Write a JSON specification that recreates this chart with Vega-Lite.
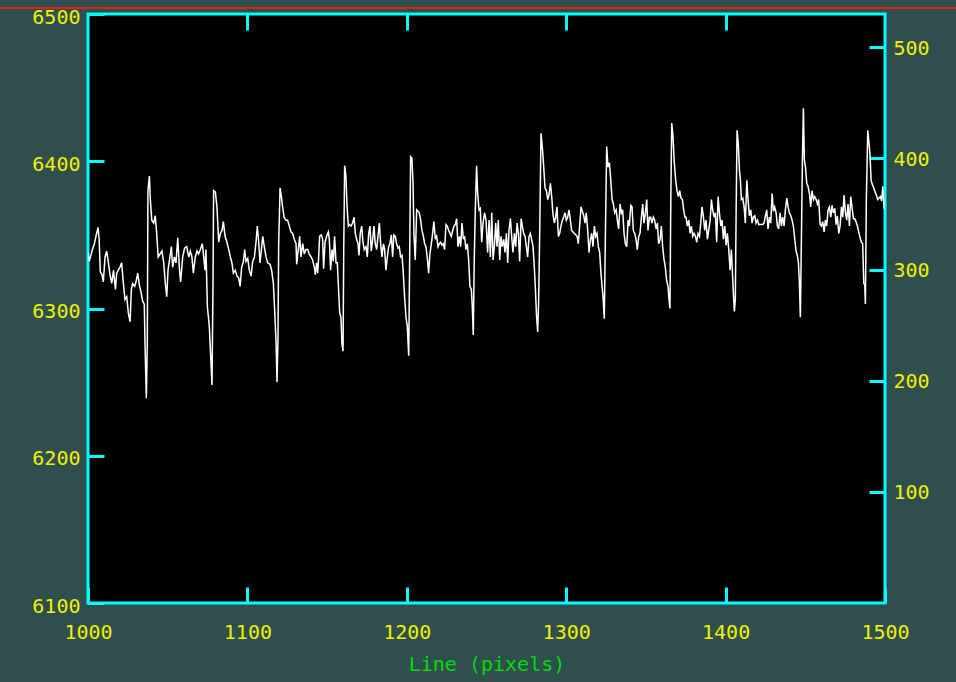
{
"$schema": "https://vega.github.io/schema/vega-lite/v6.json",
"width": 797, "height": 589,
"autosize": {"type": "none"},
"padding": {"left": 88, "top": 14, "right": 71, "bottom": 79},
"background": "#2f4f4f",
"config": {
 "view": {"fill": "black", "stroke": "#00ffff", "strokeWidth": 3},
 "axis": {"domain": false, "grid": false, "tickColor": "#00ffff", "tickWidth": 3, "tickSize": -16,
  "labelColor": "#f0f000", "labelFont": "DejaVu Sans Mono", "labelFontSize": 20, "labelFlush": false, "labelOverlap": false,
  "titleColor": "#00dd00", "titleFont": "DejaVu Sans Mono", "titleFontSize": 20, "titleFontWeight": "normal"}
},
"data": {"values": [
{"x":1000,"y":6338},{"x":1000.8,"y":6332},{"x":1002.5,"y":6339},{"x":1004,"y":6344},{"x":1005,"y":6349},{"x":1006.3,"y":6355},{"x":1007,"y":6347},{"x":1007.7,"y":6325},{"x":1008.8,"y":6323},{"x":1009.6,"y":6318},{"x":1010.7,"y":6335},{"x":1011.7,"y":6339},{"x":1012.8,"y":6331},{"x":1013.8,"y":6323},{"x":1014.9,"y":6317},{"x":1016,"y":6326},{"x":1017.2,"y":6313},{"x":1018,"y":6324},{"x":1019,"y":6326},{"x":1020,"y":6328},{"x":1021.1,"y":6331},{"x":1022.2,"y":6317},{"x":1023.2,"y":6306},{"x":1024.3,"y":6308},{"x":1025.3,"y":6297},{"x":1026.4,"y":6291},{"x":1027.2,"y":6313},{"x":1028,"y":6317},{"x":1029.3,"y":6315},{"x":1030.1,"y":6318},{"x":1031.2,"y":6324},{"x":1032.2,"y":6316},{"x":1033.3,"y":6311},{"x":1034.3,"y":6305},{"x":1035.3,"y":6303},{"x":1035.8,"y":6274},{"x":1036.6,"y":6239},{"x":1037.2,"y":6276},{"x":1037.6,"y":6380},{"x":1038.5,"y":6390},{"x":1039.1,"y":6374},{"x":1040,"y":6360},{"x":1041.2,"y":6358},{"x":1042.2,"y":6363},{"x":1043.1,"y":6351},{"x":1044,"y":6335},{"x":1045.2,"y":6337},{"x":1046.4,"y":6339},{"x":1047.5,"y":6331},{"x":1048.5,"y":6317},{"x":1049.4,"y":6308},{"x":1050.2,"y":6326},{"x":1051.4,"y":6335},{"x":1052.3,"y":6342},{"x":1053.1,"y":6328},{"x":1054.2,"y":6335},{"x":1055.2,"y":6331},{"x":1056.3,"y":6348},{"x":1057.3,"y":6328},{"x":1058.1,"y":6318},{"x":1059.4,"y":6335},{"x":1060.6,"y":6341},{"x":1061.9,"y":6342},{"x":1063.2,"y":6335},{"x":1064.2,"y":6339},{"x":1065.2,"y":6335},{"x":1066.1,"y":6324},{"x":1067.3,"y":6335},{"x":1068.4,"y":6339},{"x":1069.4,"y":6337},{"x":1070.5,"y":6340},{"x":1071.7,"y":6344},{"x":1072.6,"y":6335},{"x":1073.4,"y":6326},{"x":1074,"y":6340},{"x":1074.9,"y":6301},{"x":1076.1,"y":6288},{"x":1077,"y":6267},{"x":1077.8,"y":6248},{"x":1078.4,"y":6315},{"x":1078.8,"y":6380},{"x":1079.9,"y":6379},{"x":1080.9,"y":6369},{"x":1082,"y":6345},{"x":1083,"y":6351},{"x":1084.1,"y":6353},{"x":1084.9,"y":6359},{"x":1086,"y":6349},{"x":1087.2,"y":6345},{"x":1088.3,"y":6340},{"x":1089.3,"y":6335},{"x":1090.3,"y":6331},{"x":1091.2,"y":6324},{"x":1092.4,"y":6326},{"x":1093.5,"y":6322},{"x":1094.5,"y":6321},{"x":1095.4,"y":6315},{"x":1096.4,"y":6328},{"x":1097.5,"y":6332},{"x":1098.3,"y":6340},{"x":1099.1,"y":6332},{"x":1100.2,"y":6334},{"x":1101.2,"y":6326},{"x":1102.3,"y":6322},{"x":1103.3,"y":6332},{"x":1104.4,"y":6335},{"x":1105.4,"y":6345},{"x":1106.2,"y":6356},{"x":1107.1,"y":6345},{"x":1107.9,"y":6331},{"x":1108.8,"y":6340},{"x":1109.6,"y":6349},{"x":1110.6,"y":6342},{"x":1111.7,"y":6335},{"x":1112.7,"y":6331},{"x":1114.2,"y":6330},{"x":1115.2,"y":6326},{"x":1116.3,"y":6317},{"x":1117.1,"y":6299},{"x":1118,"y":6276},{"x":1118.6,"y":6250},{"x":1119.2,"y":6281},{"x":1119.6,"y":6343},{"x":1120.5,"y":6382},{"x":1121.3,"y":6376},{"x":1122.1,"y":6369},{"x":1123,"y":6362},
{"x":1124.2,"y":6360},{"x":1125.2,"y":6360},{"x":1126.3,"y":6356},{"x":1127.3,"y":6352},{"x":1128.4,"y":6351},{"x":1129.4,"y":6347},{"x":1130.5,"y":6344},{"x":1130.9,"y":6330},{"x":1131.9,"y":6340},{"x":1132.8,"y":6349},{"x":1133.6,"y":6335},{"x":1134.7,"y":6344},{"x":1135.7,"y":6337},{"x":1136.7,"y":6340},{"x":1137.8,"y":6340},{"x":1138.8,"y":6337},{"x":1139.9,"y":6335},{"x":1140.9,"y":6333},{"x":1142,"y":6328},{"x":1142.6,"y":6323},{"x":1143.4,"y":6331},{"x":1144.1,"y":6324},{"x":1144.7,"y":6335},{"x":1145.3,"y":6349},{"x":1146.4,"y":6350},{"x":1147.2,"y":6347},{"x":1147.8,"y":6327},{"x":1148.7,"y":6345},{"x":1149.7,"y":6349},{"x":1150.8,"y":6352},{"x":1151.4,"y":6347},{"x":1152.2,"y":6326},{"x":1153.1,"y":6340},{"x":1153.9,"y":6332},{"x":1154.7,"y":6349},{"x":1155.6,"y":6331},{"x":1156.4,"y":6331},{"x":1157,"y":6317},{"x":1157.9,"y":6297},{"x":1158.7,"y":6294},{"x":1159.3,"y":6276},{"x":1160,"y":6271},{"x":1160.4,"y":6335},{"x":1161,"y":6397},{"x":1161.8,"y":6390},{"x":1162.5,"y":6370},{"x":1163.3,"y":6356},{"x":1164.1,"y":6357},{"x":1165,"y":6356},{"x":1166,"y":6358},{"x":1166.9,"y":6362},{"x":1167.7,"y":6351},{"x":1168.5,"y":6347},{"x":1169.4,"y":6344},{"x":1170,"y":6336},{"x":1170.8,"y":6351},{"x":1171.7,"y":6356},{"x":1172.5,"y":6345},{"x":1173.3,"y":6340},{"x":1174.4,"y":6342},{"x":1175.2,"y":6335},{"x":1176.1,"y":6351},{"x":1176.9,"y":6356},{"x":1177.7,"y":6339},{"x":1178.6,"y":6347},{"x":1179.4,"y":6356},{"x":1180.2,"y":6344},{"x":1181.1,"y":6340},{"x":1181.9,"y":6349},{"x":1182.8,"y":6358},{"x":1183.6,"y":6344},{"x":1184.4,"y":6335},{"x":1185.3,"y":6344},{"x":1186.1,"y":6340},{"x":1186.9,"y":6326},{"x":1187.8,"y":6335},{"x":1188.6,"y":6342},{"x":1189.4,"y":6344},{"x":1190.3,"y":6350},{"x":1191.1,"y":6335},{"x":1191.9,"y":6350},{"x":1192.8,"y":6349},{"x":1193.6,"y":6344},{"x":1194.5,"y":6341},{"x":1195.3,"y":6342},{"x":1196.1,"y":6335},{"x":1197,"y":6336},{"x":1197.8,"y":6324},{"x":1198.6,"y":6308},{"x":1199.5,"y":6294},{"x":1200.3,"y":6288},{"x":1201.2,"y":6268},{"x":1201.8,"y":6335},{"x":1202.4,"y":6403},{"x":1203.2,"y":6402},{"x":1203.9,"y":6385},{"x":1204.5,"y":6350},{"x":1205.3,"y":6333},{"x":1206.2,"y":6367},{"x":1207,"y":6366},{"x":1207.8,"y":6365},{"x":1208.7,"y":6360},{"x":1209.5,"y":6353},{"x":1210.4,"y":6349},{"x":1211.2,"y":6344},{"x":1212,"y":6342},{"x":1212.9,"y":6334},{"x":1213.7,"y":6324},{"x":1214.5,"y":6337},{"x":1215.4,"y":6344},{"x":1216.2,"y":6351},{"x":1217,"y":6359},{"x":1217.9,"y":6347},{"x":1218.7,"y":6349},{"x":1219.6,"y":6342},{"x":1220.4,"y":6344},{"x":1221.2,"y":6345},{"x":1222.1,"y":6343},{"x":1222.9,"y":6344},{"x":1223.7,"y":6340},{"x":1224.6,"y":6357},{"x":1225.4,"y":6356},{"x":1226.3,"y":6353},{"x":1227.1,"y":6351},{"x":1227.9,"y":6349},{"x":1228.8,"y":6353},{"x":1229.6,"y":6356},{"x":1230.4,"y":6357},{"x":1231.3,"y":6361},{"x":1232.1,"y":6342},{"x":1233,"y":6349},{"x":1233.8,"y":6342},{"x":1234.6,"y":6358},{"x":1235.5,"y":6347},{"x":1236.3,"y":6349},{"x":1237.1,"y":6340},{"x":1238,"y":6344},{"x":1238.8,"y":6333},{"x":1239.6,"y":6315},{"x":1240.5,"y":6313},{"x":1241.1,"y":6301},{"x":1241.7,"y":6282},{"x":1242.3,"y":6333},{"x":1243,"y":6368},{"x":1243.8,"y":6397},{"x":1244.4,"y":6379},{"x":1245.3,"y":6367},{"x":1246.1,"y":6368},{"x":1247,"y":6345},{"x":1247.8,"y":6358},{"x":1248.8,"y":6365},{"x":1249.7,"y":6360},
{"x":1250.7,"y":6338},{"x":1251.6,"y":6360},{"x":1252.4,"y":6335},{"x":1253.3,"y":6365},{"x":1254.1,"y":6333},{"x":1254.9,"y":6342},{"x":1255.8,"y":6358},{"x":1256.6,"y":6342},{"x":1257.4,"y":6360},{"x":1258.3,"y":6333},{"x":1259.1,"y":6349},{"x":1259.9,"y":6342},{"x":1260.8,"y":6347},{"x":1261.6,"y":6338},{"x":1262.5,"y":6351},{"x":1263.3,"y":6331},{"x":1264.1,"y":6353},{"x":1265,"y":6361},{"x":1265.8,"y":6349},{"x":1266.6,"y":6338},{"x":1267.5,"y":6351},{"x":1268.3,"y":6342},{"x":1269.2,"y":6358},{"x":1270,"y":6351},{"x":1270.8,"y":6332},{"x":1271.7,"y":6361},{"x":1272.5,"y":6356},{"x":1273.3,"y":6351},{"x":1274.2,"y":6349},{"x":1275,"y":6342},{"x":1275.8,"y":6335},{"x":1276.7,"y":6349},{"x":1277.5,"y":6351},{"x":1278.3,"y":6347},{"x":1279.2,"y":6342},{"x":1280,"y":6328},{"x":1280.7,"y":6313},{"x":1281.3,"y":6297},{"x":1282.1,"y":6284},{"x":1282.7,"y":6304},{"x":1283.4,"y":6354},{"x":1284.2,"y":6419},{"x":1285,"y":6410},{"x":1285.9,"y":6396},{"x":1286.7,"y":6382},{"x":1287.6,"y":6380},{"x":1288.4,"y":6374},{"x":1289.2,"y":6377},{"x":1290.1,"y":6385},{"x":1290.9,"y":6376},{"x":1291.7,"y":6364},{"x":1292.6,"y":6358},{"x":1293.4,"y":6362},{"x":1294.2,"y":6369},{"x":1295.1,"y":6349},{"x":1295.9,"y":6351},{"x":1296.7,"y":6356},{"x":1297.6,"y":6360},{"x":1298.4,"y":6362},{"x":1299.3,"y":6365},{"x":1300.1,"y":6360},{"x":1300.9,"y":6362},{"x":1301.8,"y":6367},{"x":1302.6,"y":6360},{"x":1303.4,"y":6353},{"x":1304.3,"y":6352},{"x":1305.1,"y":6351},{"x":1306,"y":6350},{"x":1306.8,"y":6349},{"x":1307.6,"y":6344},{"x":1308.5,"y":6357},{"x":1309.3,"y":6369},{"x":1310.1,"y":6366},{"x":1311,"y":6363},{"x":1311.8,"y":6358},{"x":1312.6,"y":6365},{"x":1313.5,"y":6353},{"x":1314.3,"y":6338},{"x":1315.2,"y":6347},{"x":1316,"y":6351},{"x":1316.8,"y":6342},{"x":1317.7,"y":6356},{"x":1318.5,"y":6349},{"x":1319.3,"y":6351},{"x":1320.2,"y":6342},{"x":1321,"y":6338},{"x":1321.8,"y":6324},{"x":1322.5,"y":6315},{"x":1323.1,"y":6308},{"x":1323.9,"y":6293},{"x":1324.6,"y":6351},{"x":1325.4,"y":6410},{"x":1326.2,"y":6396},{"x":1327.1,"y":6399},{"x":1327.9,"y":6388},{"x":1328.8,"y":6374},{"x":1329.6,"y":6371},{"x":1330.4,"y":6365},{"x":1331.3,"y":6367},{"x":1332.1,"y":6360},{"x":1332.9,"y":6354},{"x":1333.8,"y":6371},{"x":1334.6,"y":6365},{"x":1335.4,"y":6367},{"x":1336.3,"y":6351},{"x":1337.1,"y":6344},{"x":1338,"y":6342},{"x":1338.8,"y":6360},{"x":1339.6,"y":6356},{"x":1340.5,"y":6370},{"x":1341.3,"y":6369},{"x":1342.1,"y":6353},{"x":1343,"y":6351},{"x":1343.8,"y":6347},{"x":1344.6,"y":6340},{"x":1345.5,"y":6349},{"x":1346.3,"y":6351},{"x":1347.2,"y":6362},{"x":1348,"y":6371},{"x":1348.8,"y":6358},{"x":1349.7,"y":6365},{"x":1350.5,"y":6374},{"x":1351.3,"y":6353},{"x":1352.2,"y":6362},{"x":1353,"y":6362},{"x":1353.8,"y":6358},{"x":1354.7,"y":6362},{"x":1355.5,"y":6360},{"x":1356.4,"y":6354},{"x":1357.2,"y":6358},{"x":1358,"y":6344},{"x":1358.9,"y":6347},{"x":1359.7,"y":6356},{"x":1360.5,"y":6342},{"x":1361.4,"y":6333},{"x":1362.2,"y":6328},{"x":1363,"y":6319},{"x":1363.9,"y":6315},{"x":1364.5,"y":6306},{"x":1365.1,"y":6300},{"x":1365.6,"y":6371},{"x":1366.2,"y":6426},{"x":1367,"y":6417},{"x":1367.8,"y":6399},{"x":1368.7,"y":6387},{"x":1369.5,"y":6380},{"x":1370.4,"y":6376},{"x":1371.2,"y":6380},{"x":1372,"y":6375},{"x":1372.9,"y":6374},{"x":1373.7,"y":6367},{"x":1374.5,"y":6362},
{"x":1375.2,"y":6362},{"x":1376,"y":6356},{"x":1376.9,"y":6360},{"x":1377.7,"y":6351},{"x":1378.5,"y":6356},{"x":1379.4,"y":6349},{"x":1380.2,"y":6351},{"x":1381.1,"y":6349},{"x":1381.9,"y":6345},{"x":1382.7,"y":6351},{"x":1383.6,"y":6349},{"x":1384.4,"y":6358},{"x":1385.2,"y":6369},{"x":1386.1,"y":6362},{"x":1386.9,"y":6353},{"x":1387.7,"y":6360},{"x":1388.6,"y":6347},{"x":1389.4,"y":6353},{"x":1390.3,"y":6360},{"x":1391.1,"y":6374},{"x":1391.9,"y":6367},{"x":1392.8,"y":6362},{"x":1393.6,"y":6365},{"x":1394.4,"y":6345},{"x":1395.3,"y":6376},{"x":1396.1,"y":6365},{"x":1397,"y":6356},{"x":1397.8,"y":6360},{"x":1398.6,"y":6347},{"x":1399.5,"y":6356},{"x":1400.3,"y":6343},{"x":1401.1,"y":6351},{"x":1402,"y":6340},{"x":1402.8,"y":6326},{"x":1403.6,"y":6340},{"x":1404.3,"y":6324},{"x":1404.9,"y":6310},{"x":1405.5,"y":6298},{"x":1406.1,"y":6306},{"x":1406.6,"y":6365},{"x":1407.2,"y":6421},{"x":1408,"y":6411},{"x":1408.7,"y":6394},{"x":1409.3,"y":6387},{"x":1409.9,"y":6374},{"x":1410.8,"y":6375},{"x":1411.6,"y":6369},{"x":1412.4,"y":6358},{"x":1413.3,"y":6387},{"x":1414.1,"y":6374},{"x":1414.9,"y":6363},{"x":1415.8,"y":6367},{"x":1416.6,"y":6358},{"x":1417.4,"y":6362},{"x":1418.3,"y":6363},{"x":1419.1,"y":6358},{"x":1420,"y":6360},{"x":1420.8,"y":6357},{"x":1421.6,"y":6357},{"x":1422.5,"y":6357},{"x":1423.3,"y":6357},{"x":1424.1,"y":6358},{"x":1425,"y":6363},{"x":1425.8,"y":6367},{"x":1426.6,"y":6354},{"x":1427.5,"y":6362},{"x":1428.3,"y":6358},{"x":1429.2,"y":6378},{"x":1430,"y":6366},{"x":1430.8,"y":6369},{"x":1431.7,"y":6365},{"x":1432.5,"y":6356},{"x":1433.3,"y":6354},{"x":1434.2,"y":6365},{"x":1435,"y":6356},{"x":1435.8,"y":6362},{"x":1436.7,"y":6356},{"x":1437.5,"y":6367},{"x":1438.4,"y":6375},{"x":1439.2,"y":6369},{"x":1440,"y":6365},{"x":1440.9,"y":6363},{"x":1441.7,"y":6360},{"x":1442.5,"y":6356},{"x":1443.4,"y":6347},{"x":1444.2,"y":6339},{"x":1445,"y":6336},{"x":1445.7,"y":6331},{"x":1446.3,"y":6317},{"x":1446.9,"y":6294},{"x":1447.6,"y":6351},{"x":1448.2,"y":6401},{"x":1448.8,"y":6436},{"x":1449.4,"y":6401},{"x":1450.1,"y":6396},{"x":1450.9,"y":6385},{"x":1451.7,"y":6383},{"x":1452.6,"y":6378},{"x":1453.4,"y":6369},{"x":1454.2,"y":6380},{"x":1455.1,"y":6374},{"x":1455.9,"y":6376},{"x":1456.8,"y":6374},{"x":1457.6,"y":6371},{"x":1458.4,"y":6374},{"x":1459.3,"y":6357},{"x":1460.1,"y":6356},{"x":1460.9,"y":6359},{"x":1461.8,"y":6352},{"x":1462.6,"y":6360},{"x":1463.4,"y":6356},{"x":1464.3,"y":6367},{"x":1465.1,"y":6369},{"x":1466,"y":6362},{"x":1466.8,"y":6370},{"x":1467.6,"y":6365},{"x":1468.5,"y":6368},{"x":1469.3,"y":6357},{"x":1470.1,"y":6363},{"x":1471,"y":6351},{"x":1471.8,"y":6356},{"x":1472.7,"y":6369},{"x":1473.5,"y":6362},{"x":1474.3,"y":6377},{"x":1475.2,"y":6365},{"x":1476,"y":6360},{"x":1476.8,"y":6371},{"x":1477.7,"y":6356},{"x":1478.5,"y":6376},{"x":1479.3,"y":6369},{"x":1480.2,"y":6361},{"x":1481,"y":6361},{"x":1481.8,"y":6359},{"x":1482.7,"y":6356},{"x":1483.5,"y":6352},{"x":1484.4,"y":6348},{"x":1485.2,"y":6345},{"x":1486,"y":6344},{"x":1486.7,"y":6317},{"x":1487.3,"y":6316},{"x":1487.7,"y":6303},{"x":1488.3,"y":6375},{"x":1489.2,"y":6421},{"x":1490,"y":6412},{"x":1490.6,"y":6404},{"x":1491.3,"y":6387},{"x":1492.1,"y":6384},{"x":1492.9,"y":6382},{"x":1493.8,"y":6379},{"x":1494.6,"y":6377},{"x":1495.4,"y":6374},{"x":1496.3,"y":6375},{"x":1497.1,"y":6376},{"x":1497.9,"y":6373},{"x":1498.6,"y":6383},{"x":1499.4,"y":6369},{"x":1500,"y":6367}
]},
"layer": [
 {"mark": {"type": "line", "color": "white", "strokeWidth": 1.5, "clip": true},
  "encoding": {
   "x": {"field": "x", "type": "quantitative", "scale": {"domain": [1000, 1500], "nice": false, "zero": false},
         "axis": {"orient": "bottom", "values": [1000, 1100, 1200, 1300, 1400, 1500], "format": "d", "title": "Line (pixels)", "labelPadding": 35, "titlePadding": 12}},
   "y": {"field": "y", "type": "quantitative", "scale": {"domain": [6100, 6500], "nice": false, "zero": false},
         "axis": {"orient": "left", "values": [6100, 6200, 6300, 6400, 6500], "format": "d", "title": null, "labelPadding": 24, "labelOffset": 3}}
  }},
 {"mark": {"type": "point", "opacity": 0, "clip": true},
  "encoding": {
   "x": {"field": "x", "type": "quantitative", "scale": {"domain": [1000, 1500], "nice": false, "zero": false},
         "axis": {"orient": "top", "values": [1100, 1200, 1300, 1400], "labels": false, "title": null}},
   "y": {"field": "y", "type": "quantitative", "scale": {"domain": [0, 530], "nice": false, "zero": false},
         "axis": {"orient": "right", "values": [100, 200, 300, 400, 500], "format": "d", "title": null, "labelPadding": 24, "labelOffset": 1}}
  }},
 {"mark": {"type": "rule", "color": "#e02010", "strokeWidth": 2, "clip": false},
  "encoding": {
   "x": {"datum": 944.8, "type": "quantitative", "scale": {"domain": [1000, 1500], "nice": false, "zero": false}, "axis": null},
   "x2": {"datum": 1544.5},
   "y": {"datum": 6504, "type": "quantitative", "scale": {"domain": [6100, 6500], "nice": false, "zero": false}, "axis": null}
  }}
],
"resolve": {"scale": {"y": "independent"}, "axis": {"x": "independent", "y": "independent"}}
}
